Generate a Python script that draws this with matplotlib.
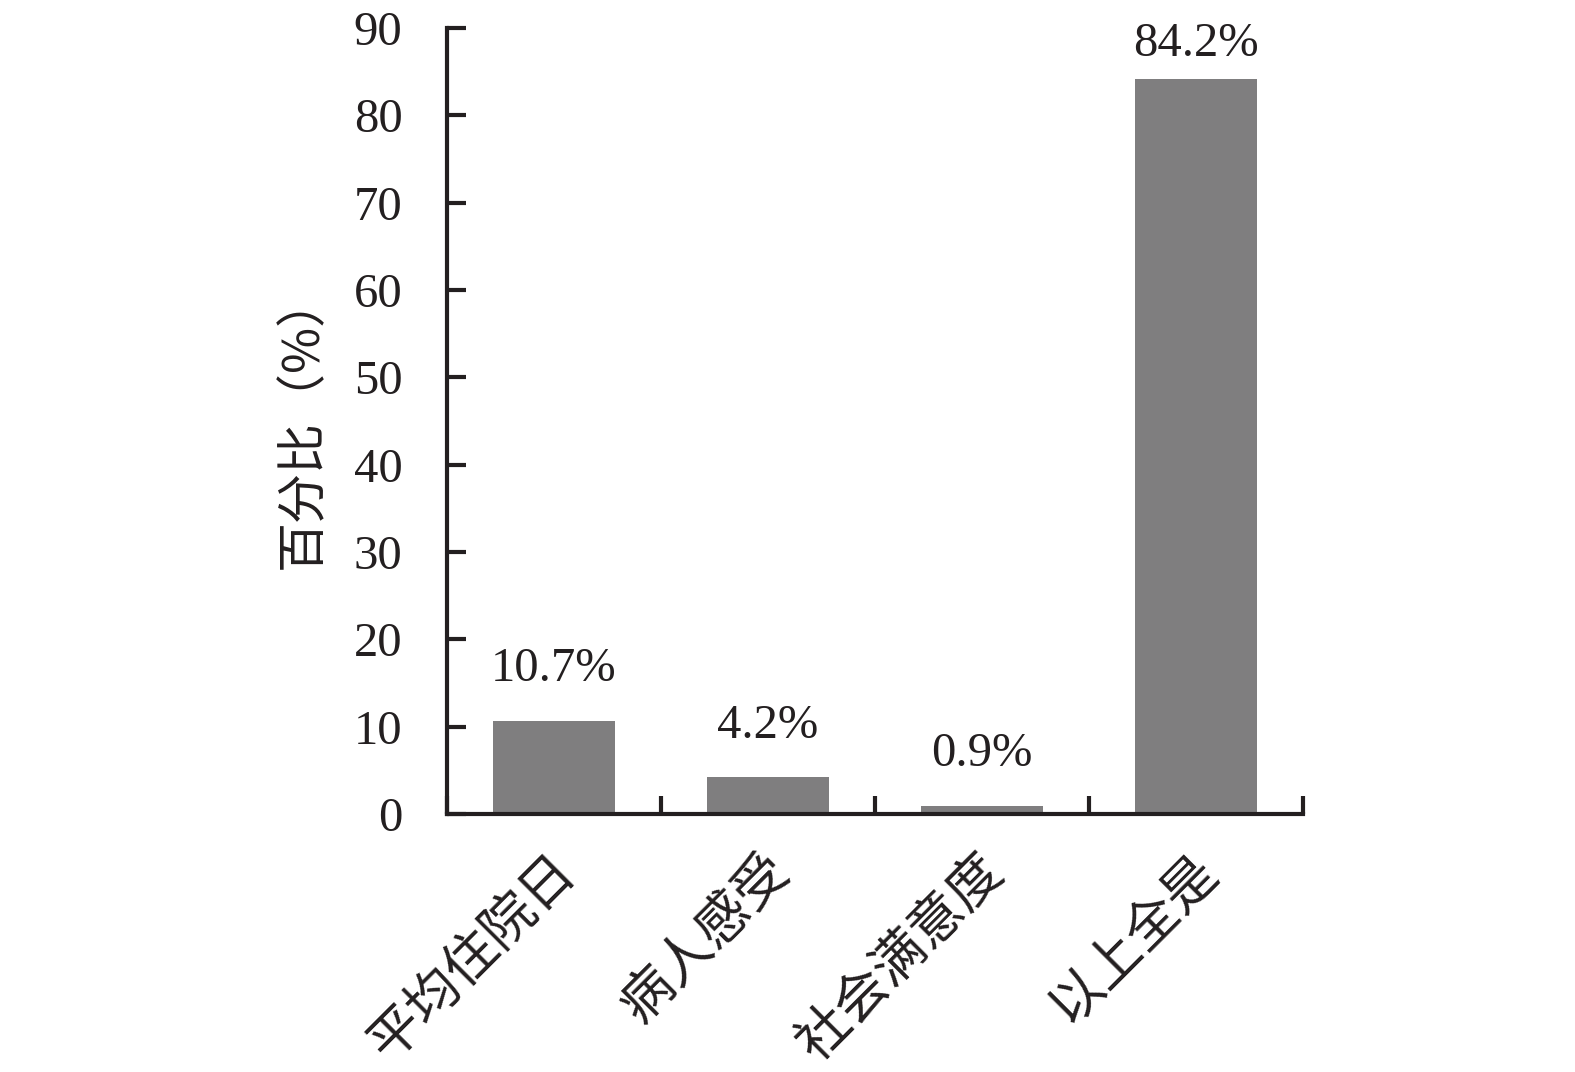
import matplotlib
matplotlib.use("Agg")
import matplotlib.pyplot as plt
import numpy as np

# data
categories = ["平均住院日", "病人感受", "社会满意度", "以上全是"]
values = [10.7, 4.2, 0.9, 84.2]
value_labels = ["10.7%", "4.2%", "0.9%", "84.2%"]
y_ticks = [0, 10, 20, 30, 40, 50, 60, 70, 80, 90]

num_font = ["Liberation Serif", "Noto Sans CJK SC"]
cjk_font = ["Noto Sans CJK SC", "Liberation Serif"]
ink = "#231f20"
bar_color = "#7f7e7f"

fig = plt.figure(figsize=(15.75, 10.72), dpi=100)
ax = fig.add_axes([0.2838, 0.2407, 0.5435, 0.7333])

x = np.arange(len(categories))
ax.bar(x, values, width=0.57, color=bar_color, zorder=2)

# labels sit ~4 units above the bar, but the tallest is squeezed under the top
for xi, v, lab in zip(x, values, value_labels):
    ax.text(xi, min(v + 3.4, 85.6), lab, ha="center", va="bottom",
            fontsize=35, family=num_font, color=ink)

ax.set_xlim(-0.5, len(categories) - 0.5)
ax.set_ylim(0, 90)

for side in ["top", "right"]:
    ax.spines[side].set_visible(False)
for side in ["left", "bottom"]:
    ax.spines[side].set_linewidth(3)
    ax.spines[side].set_color(ink)

ax.set_yticks(y_ticks)
ax.set_yticklabels([str(t) for t in y_ticks], family=num_font, fontsize=35, color=ink)
ax.tick_params(axis="y", direction="in", length=14, width=3, color=ink, pad=32)

# x ticks sit on category boundaries, labels at centres
ax.set_xticks(np.arange(len(categories) + 1) - 0.5)
ax.set_xticklabels([])
ax.tick_params(axis="x", direction="in", length=13, width=3, color=ink)
for xi, name in zip(x, categories):
    ax.text(xi + 0.06, -5.6, name, rotation=45, rotation_mode="anchor",
            ha="right", va="center", fontsize=38.5, family=cjk_font,
            color=ink, transform=ax.transData)

ax.set_ylabel("百分比（%）", family=cjk_font, fontsize=36, color=ink, labelpad=18)

fig.savefig("out.png", dpi=100)
